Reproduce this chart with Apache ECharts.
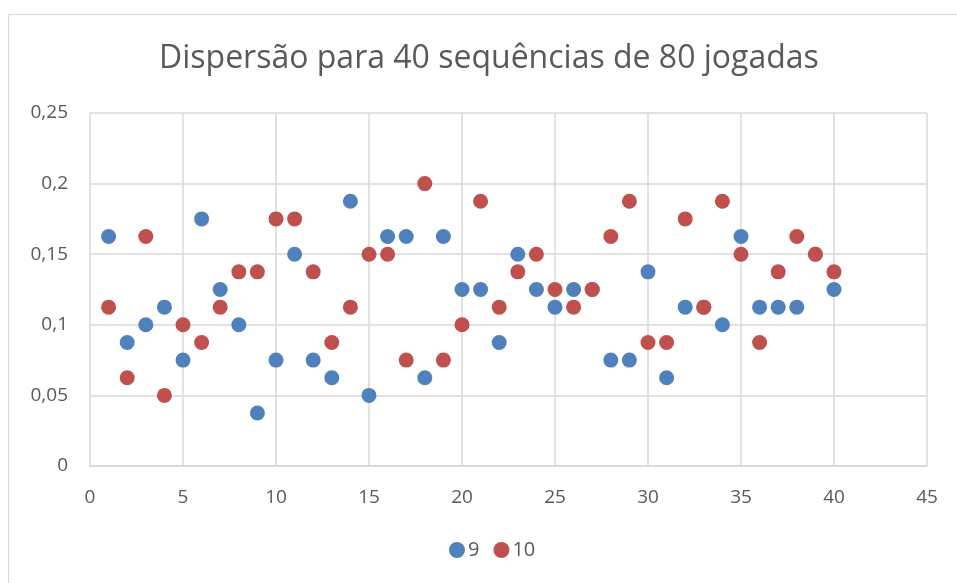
<!DOCTYPE html>
<html>
<head>
<meta charset="utf-8">
<script src="https://cdn.jsdelivr.net/npm/echarts@6/dist/echarts.min.js"></script>
<style>
  html, body { margin: 0; padding: 0; background: #fff; }
  #chart { width: 957px; height: 583px; }
</style>
</head>
<body>
<div id="chart"></div>
<script>
// jogada index 1..40
const jogadas = Array.from({ length: 40 }, (_, i) => i + 1);

// dispersão, sequência "9"
const serie9 = [
  0.1625, 0.0875, 0.1, 0.1125, 0.075, 0.175, 0.125, 0.1, 0.0375, 0.075,
  0.15, 0.075, 0.0625, 0.1875, 0.05, 0.1625, 0.1625, 0.0625, 0.1625, 0.125,
  0.125, 0.0875, 0.15, 0.125, 0.1125, 0.125, 0.125, 0.075, 0.075, 0.1375,
  0.0625, 0.1125, 0.1125, 0.1, 0.1625, 0.1125, 0.1125, 0.1125, 0.15, 0.125
];

// dispersão, sequência "10"
const serie10 = [
  0.1125, 0.0625, 0.1625, 0.05, 0.1, 0.0875, 0.1125, 0.1375, 0.1375, 0.175,
  0.175, 0.1375, 0.0875, 0.1125, 0.15, 0.15, 0.075, 0.2, 0.075, 0.1,
  0.1875, 0.1125, 0.1375, 0.15, 0.125, 0.1125, 0.125, 0.1625, 0.1875, 0.0875,
  0.0875, 0.175, 0.1125, 0.1875, 0.15, 0.0875, 0.1375, 0.1625, 0.15, 0.1375
];

const chart = echarts.init(document.getElementById('chart'));
const txt = '#595959';
const grid = '#d9d9d9';
const fontFam = '"Open Sans", "Noto Sans", sans-serif';

const toPairs = (ys) => jogadas.map((x, i) => [x, ys[i]]);
const fmt = (v) => String(v).replace('.', ',');

chart.setOption({
  animation: false,
  textStyle: { fontFamily: fontFam },
  graphic: [{
    type: 'rect',
    shape: { x: 8.5, y: 14.5, width: 960, height: 600 },
    style: { fill: 'none', stroke: '#d9d9d9', lineWidth: 1 },
    silent: true
  }],
  title: {
    text: 'Dispersão para 40 sequências de 80 jogadas',
    left: 154,
    top: 38,
    textStyle: { color: txt, fontSize: 32, fontWeight: 'normal', fontFamily: fontFam }
  },
  legend: {
    bottom: 18,
    left: 444,
    itemWidth: 16,
    itemHeight: 16,
    itemGap: 14,
    icon: 'circle',
    textStyle: { color: txt, fontSize: 20, padding: [0, 0, 0, -2] },
    data: ['9', '10']
  },
  grid: { left: 90, right: 30, top: 113, bottom: 117 },
  xAxis: {
    type: 'value',
    min: 0,
    max: 45,
    interval: 5,
    axisLine: { show: true, lineStyle: { color: grid, width: 1.5 } },
    axisTick: { show: false },
    axisLabel: { color: txt, fontSize: 19, margin: 22 },
    splitLine: { show: true, lineStyle: { color: grid, width: 1.5 } }
  },
  yAxis: {
    type: 'value',
    min: 0,
    max: 0.25,
    interval: 0.05,
    axisLine: { show: false },
    axisTick: { show: false },
    axisLabel: { color: txt, fontSize: 19, margin: 22, formatter: fmt },
    splitLine: { show: true, lineStyle: { color: grid, width: 1.5 } }
  },
  series: [
    {
      name: '9',
      type: 'scatter',
      symbolSize: 15,
      itemStyle: { color: '#4f81bd', opacity: 1 },
      data: toPairs(serie9)
    },
    {
      name: '10',
      type: 'scatter',
      symbolSize: 15,
      itemStyle: { color: '#c0504d', opacity: 1 },
      data: toPairs(serie10)
    }
  ]
});
</script>
</body>
</html>
